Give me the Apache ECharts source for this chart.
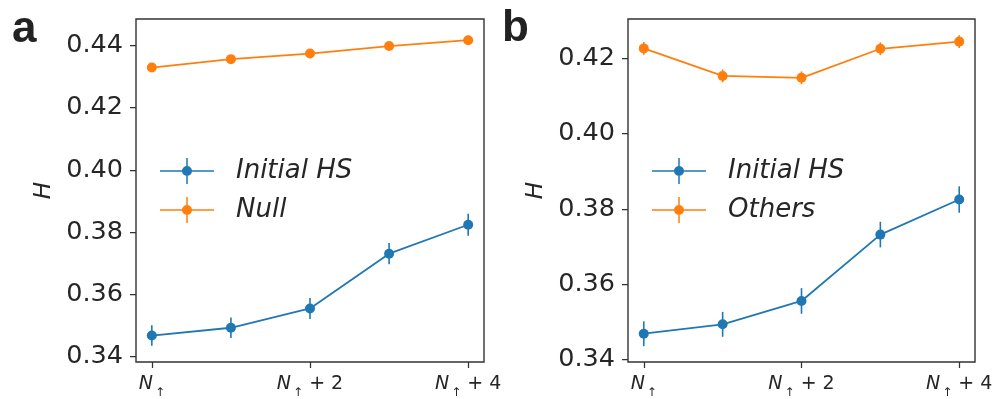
<!DOCTYPE html>
<html>
<head>
<meta charset="utf-8">
<script src="https://cdn.jsdelivr.net/npm/echarts@6/dist/echarts.min.js"></script>
<style>
html,body{margin:0;padding:0;background:#fff;}
#chart{width:997px;height:399px;}
</style>
</head>
<body>
<div id="chart"></div>
<script>
// ---- data ----
const xPositions = [0, 1, 2, 3, 4];
const xTickValues = [0, 2, 4];
const xTickLabels = ['', ' + 2', ' + 4']; // appended after N↑
const yTicksA = [0.34, 0.36, 0.38, 0.40, 0.42, 0.44];
const yTicksB = [0.34, 0.36, 0.38, 0.40, 0.42];

const initialHS_A = [0.3468, 0.3493, 0.3555, 0.3731, 0.3824];
const initialHS_A_err = [0.0033, 0.0033, 0.0034, 0.0034, 0.0035];
const null_A = [0.4329, 0.4356, 0.4374, 0.4398, 0.4417];
const null_A_err = [0.0005, 0.0005, 0.0005, 0.0005, 0.0005];

const initialHS_B = [0.3469, 0.3494, 0.3556, 0.3732, 0.3825];
const initialHS_B_err = [0.0033, 0.0033, 0.0034, 0.0034, 0.0035];
const others_B = [0.4226, 0.4153, 0.4148, 0.4225, 0.4244];
const others_B_err = [0.0017, 0.0017, 0.0017, 0.0017, 0.0017];

const seriesNamesA = ['Initial HS', 'Null'];
const seriesNamesB = ['Initial HS', 'Others'];
const panelLabels = ['a', 'b'];
const yName = 'H';

// ---- style ----
const BLUE = '#1f77b4', ORANGE = '#ff7f0e';
const TXT = '#262626', SPINE = '#333333';
const FONT = 'DejaVu Sans';

const legendIcon = 'path://M0 12.25 H54 V13.75 H0 Z M26.25 0 H27.75 V26 H26.25 Z M22 13 A5 5 0 1 1 32 13 A5 5 0 1 1 22 13 Z';

function pts(vals){ return vals.map((v,i)=>[xPositions[i], v]); }
function errs(vals, e){ return vals.map((v,i)=>[xPositions[i], v - e[i], v + e[i]]); }

function errSeries(name, idx, data, color){
  return {
    type:'custom', name:name, xAxisIndex:idx, yAxisIndex:idx, data:data, z:3,
    renderItem:function(params, api){
      const p1 = api.coord([api.value(0), api.value(1)]);
      const p2 = api.coord([api.value(0), api.value(2)]);
      return {type:'line', shape:{x1:p1[0],y1:p1[1],x2:p2[0],y2:p2[1]},
              style:{stroke:color, lineWidth:1.6}};
    }
  };
}
function lineSeries(name, idx, data, color){
  return {
    type:'line', name:name, xAxisIndex:idx, yAxisIndex:idx, data:data, z:4,
    symbol:'circle', symbolSize:10, showSymbol:true,
    itemStyle:{color:color}, lineStyle:{color:color, width:1.8},
    emphasis:{disabled:true}, animation:false
  };
}

const xRich = {
  n:{fontFamily:FONT, fontStyle:'italic', fontSize:19, color:TXT, lineHeight:22, verticalAlign:'bottom'},
  s:{fontFamily:FONT, fontSize:12, color:TXT, verticalAlign:'bottom', lineHeight:22, padding:[0,0,-5,2]},
  p:{fontFamily:FONT, fontSize:19, color:TXT, lineHeight:22, verticalAlign:'bottom'}
};

function xAxis(idx){
  return {
    type:'value', gridIndex:idx, min:-0.2, max:4.2,
    splitLine:{show:false},
    axisLine:{show:false, onZero:false},
    axisTick:{show:true, length:6, lineStyle:{color:SPINE, width:1.25}, customValues:xTickValues},
    axisLabel:{show:true, margin:10, customValues:xTickValues,
      formatter:function(v){ const i = xTickValues.indexOf(v); return '{n|N}{s|↑}{p|' + xTickLabels[i] + '}'; },
      rich:xRich}
  };
}
function yAxis(idx, min, max, ticks){
  return {
    type:'value', gridIndex:idx, min:min, max:max,
    splitLine:{show:false},
    axisLine:{show:false, onZero:false},
    axisTick:{show:true, length:6, lineStyle:{color:SPINE, width:1.25}, customValues:ticks},
    axisLabel:{show:true, margin:13, customValues:ticks, color:TXT, fontFamily:FONT, fontSize:25.5,
      formatter:function(v){ return v.toFixed(2); }},
    name:yName, nameLocation:'middle', nameRotate:90, nameGap:80,
    nameTextStyle:{fontFamily:FONT, fontStyle:'italic', fontSize:23, color:TXT}
  };
}
function legend(idx, names, left){
  return {
    orient:'vertical', left:left, top:158, padding:0, itemWidth:54, itemHeight:26, itemGap:13,
    icon:legendIcon, data:names, selectedMode:false,
    textStyle:{fontFamily:FONT, fontStyle:'italic', fontSize:26, color:TXT, padding:[0,0,0,17]}
  };
}

const option = {
  backgroundColor:'#ffffff',
  animation:false,
  grid:[
    {left:136, top:19, width:348, height:347, show:true, borderColor:SPINE, borderWidth:1.4, backgroundColor:'transparent'},
    {left:628, top:19, width:347, height:347, show:true, borderColor:SPINE, borderWidth:1.4, backgroundColor:'transparent'}
  ],
  xAxis:[xAxis(0), xAxis(1)],
  yAxis:[yAxis(0, 0.3383, 0.4485, yTicksA), yAxis(1, 0.3394, 0.4304, yTicksB)],
  legend:[legend(0, seriesNamesA, 160), legend(1, seriesNamesB, 652)],
  graphic:[
    {type:'text', left:12, top:8, style:{text:panelLabels[0], font:'bold 44px "Liberation Sans"', fill:'#222'}},
    {type:'text', left:502, top:7, style:{text:panelLabels[1], font:'bold 44px "Liberation Sans"', fill:'#222'}}
  ],
  series:[
    errSeries('eA0', 0, errs(initialHS_A, initialHS_A_err), BLUE),
    lineSeries(seriesNamesA[0], 0, pts(initialHS_A), BLUE),
    errSeries('eA1', 0, errs(null_A, null_A_err), ORANGE),
    lineSeries(seriesNamesA[1], 0, pts(null_A), ORANGE),
    errSeries('eB0', 1, errs(initialHS_B, initialHS_B_err), BLUE),
    lineSeries(seriesNamesB[0], 1, pts(initialHS_B), BLUE),
    errSeries('eB1', 1, errs(others_B, others_B_err), ORANGE),
    lineSeries(seriesNamesB[1], 1, pts(others_B), ORANGE)
  ]
};

const chart = echarts.init(document.getElementById('chart'), null, {renderer:'canvas'});
chart.setOption(option);
</script>
</body>
</html>
